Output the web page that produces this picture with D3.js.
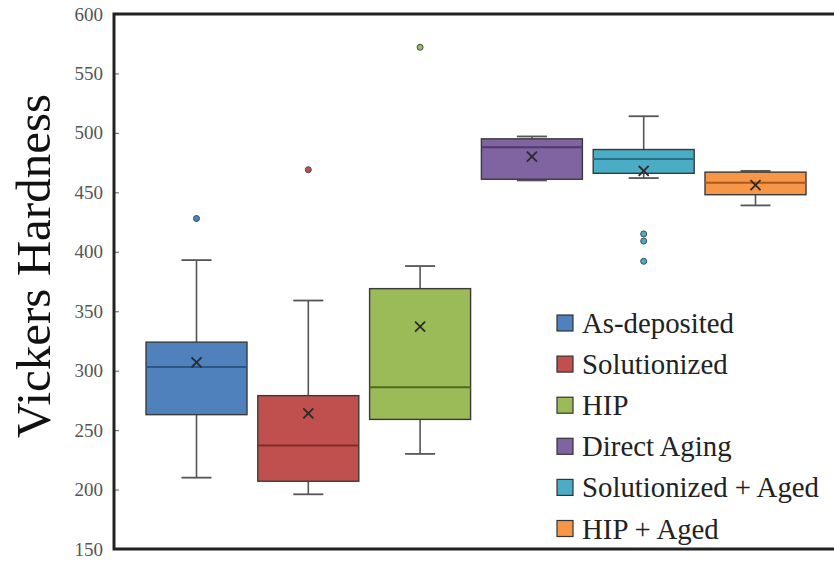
<!DOCTYPE html>
<html>
<head>
<meta charset="utf-8">
<script src="https://cdn.jsdelivr.net/npm/d3@7/dist/d3.min.js"></script>
<style>
  html, body { margin: 0; padding: 0; background: #ffffff; }
  svg { display: block; }
</style>
</head>
<body>
<svg id="chart" width="834" height="561"></svg>
<script>
// Vickers hardness by processing condition (box-and-whisker summary)
const categories = ["As-deposited", "Solutionized", "HIP", "Direct Aging", "Solutionized + Aged", "HIP + Aged"];
const colors     = ["#4f81bd", "#c0504d", "#9bbb59", "#8064a2", "#4bacc6", "#f79646"];
const medianInk  = ["#2f5585", "#7e2b29", "#4d6a21", "#4e3a6a", "#26708a", "#a95a1c"];
const whiskerLow  = [210, 196, 230, 460, 462, 439];
const q1          = [263, 207, 259, 461, 466, 448];
const median      = [303, 237, 286, 488, 478, 458];
const q3          = [324, 279, 369, 495, 486, 467];
const whiskerHigh = [393, 359, 388, 497, 514, 468];
const means       = [307, 264, 337, 480, 468, 456];
const outliers    = [[428], [469], [572], [], [415, 409, 392], []];
const yTicks = [150, 200, 250, 300, 350, 400, 450, 500, 550, 600];

const SERIF = "'Liberation Serif', 'Times New Roman', serif";

const svg = d3.select("#chart");
const W = 834, H = 561;
const plot = { left: 114, top: 14, bottom: 549 };

const y = d3.scaleLinear().domain([150, 600]).range([plot.bottom, plot.top]);
const x = d3.scaleBand().domain(categories).range([140.6, 811.4])
  .paddingInner(0.0966).paddingOuter(0.0483);
const bw = x.bandwidth();
const capW = 30;

// Y axis title
svg.append("text")
  .attr("transform", "translate(50,266) rotate(-90)")
  .attr("text-anchor", "middle")
  .style("font-family", SERIF)
  .style("font-size", "49px")
  .attr("fill", "#111")
  .text("Vickers Hardness");

// Y axis ticks and labels
const yAxis = d3.axisLeft(y).tickValues(yTicks).tickSize(-5).tickPadding(11);
const gy = svg.append("g").attr("transform", `translate(${plot.left},0)`).call(yAxis);
gy.select(".domain").remove();
gy.selectAll(".tick line").attr("stroke", "#777").attr("stroke-width", 1.2);
gy.selectAll(".tick text")
  .style("font-family", SERIF)
  .style("font-size", "19px")
  .attr("fill", "#555");

// Boxes
const groups = svg.append("g").selectAll("g.box")
  .data(categories.map((c, i) => ({ c, i })))
  .join("g").attr("class", "box");

groups.each(function (d) {
  const g = d3.select(this);
  const i = d.i;
  const cx = x(d.c) + bw / 2;
  // whiskers
  g.append("line").attr("x1", cx).attr("x2", cx)
    .attr("y1", y(whiskerHigh[i])).attr("y2", y(q3[i]))
    .attr("stroke", "#555").attr("stroke-width", 1.6);
  g.append("line").attr("x1", cx).attr("x2", cx)
    .attr("y1", y(q1[i])).attr("y2", y(whiskerLow[i]))
    .attr("stroke", "#555").attr("stroke-width", 1.6);
  [whiskerHigh[i], whiskerLow[i]].forEach(v => {
    g.append("line").attr("x1", cx - capW / 2).attr("x2", cx + capW / 2)
      .attr("y1", y(v)).attr("y2", y(v))
      .attr("stroke", "#555").attr("stroke-width", 1.8);
  });
  // box
  g.append("rect")
    .attr("x", x(d.c)).attr("width", bw)
    .attr("y", y(q3[i])).attr("height", y(q1[i]) - y(q3[i]))
    .attr("fill", colors[i])
    .attr("stroke", "#3a3a3a").attr("stroke-width", 1.4);
  // median
  g.append("line").attr("x1", x(d.c)).attr("x2", x(d.c) + bw)
    .attr("y1", y(median[i])).attr("y2", y(median[i]))
    .attr("stroke", medianInk[i]).attr("stroke-width", 2);
  // mean marker
  const my = y(means[i]), s = 5;
  g.append("path")
    .attr("d", `M${cx - s},${my - s}L${cx + s},${my + s}M${cx - s},${my + s}L${cx + s},${my - s}`)
    .attr("stroke", "#2a2a2a").attr("stroke-width", 1.8).attr("fill", "none");
  // outliers
  g.selectAll("circle").data(outliers[i]).join("circle")
    .attr("cx", cx).attr("cy", v => y(v)).attr("r", 3)
    .attr("fill", colors[i]).attr("stroke", "#3a4a55").attr("stroke-width", 1);
});

// Frame: left, top and bottom edges
svg.append("path")
  .attr("d", `M${W + 5},${plot.top}H${plot.left}V${plot.bottom}H${W + 5}`)
  .attr("fill", "none").attr("stroke", "#222").attr("stroke-width", 3);

// Legend
const legend = svg.append("g").attr("transform", "translate(557,323)");
const rowH = 41.1;
const items = legend.selectAll("g").data(categories).join("g")
  .attr("transform", (d, i) => `translate(0,${i * rowH})`);
items.append("rect")
  .attr("x", 0).attr("y", -8).attr("width", 16).attr("height", 16)
  .attr("fill", (d, i) => colors[i])
  .attr("stroke", "#333").attr("stroke-width", 1.2);
items.append("text")
  .attr("x", 25).attr("y", 0).attr("dy", "0.35em")
  .style("font-family", SERIF)
  .style("font-size", "28.8px")
  .attr("fill", "#222")
  .text(d => d);
</script>
</body>
</html>
